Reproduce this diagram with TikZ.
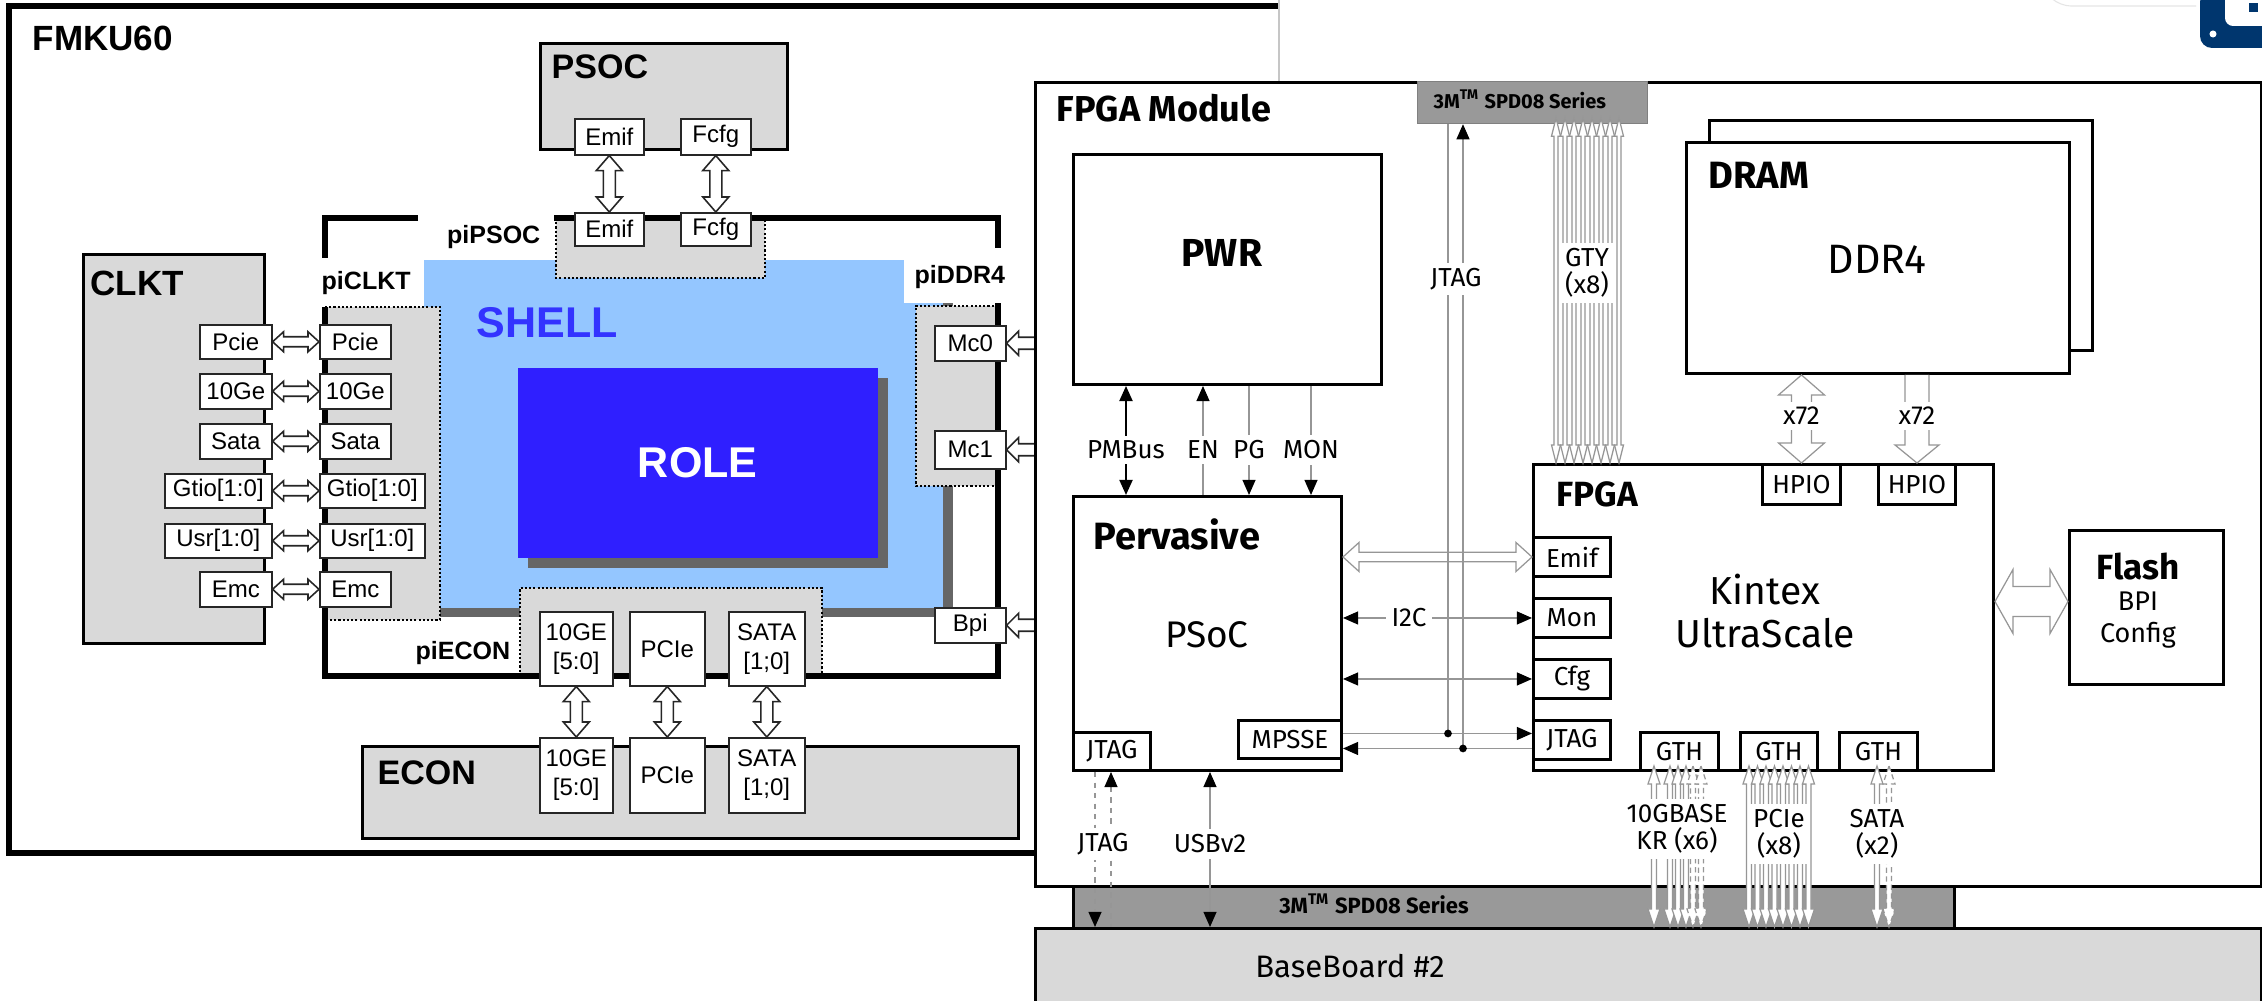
\documentclass[tikz,border=0pt]{standalone}
\usepackage{fontspec}
\setmainfont{Liberation Sans}
\newfontfamily\plex{Fira Sans}
\usetikzlibrary{arrows.meta,calc}
\definecolor{panelgray}{RGB}{217,217,217}
\definecolor{spdgray}{RGB}{153,153,153}
\definecolor{shadowgray}{RGB}{102,102,102}
\definecolor{shellblue}{RGB}{148,198,255}
\definecolor{roleblue}{RGB}{47,31,255}
\definecolor{shelltext}{RGB}{51,51,255}
\definecolor{logoblue}{RGB}{0,54,110}
\definecolor{connline}{RGB}{150,150,150}
\newcommand\fpx[1]{\fontsize{\fpeval{#1*0.28453}pt}{\fpeval{#1*0.34}pt}\selectfont}
\newcommand\fpxs[2]{\fontsize{\fpeval{#1*0.28453}pt}{\fpeval{#2*0.28453}pt}\selectfont}
\newcommand\bx[7]{\node[#2,anchor=north west,minimum width={(#5-#3)*0.01cm},minimum height={(#6-#4)*0.01cm}] (#1) at (#3,#4) {#7};}
\newcommand\vbarrow[6][]{\draw[#1] (#2) -- ++(#5,#6) -- ++({#4-#5},0) -- ($(#2|-#3)+(#4,-#6)$) -- ++({#5-#4},0) -- (#2|-#3) -- ++(-#5,-#6) -- ++({#5-#4},0) -- ($(#2)+(-#4,#6)$) -- ++({#4-#5},0) -- cycle;}
\newcommand\hbarrow[6][]{\draw[#1] (#2) -- ++(#6,-#5) -- ++(0,{#5-#4}) -- ($(#3|-#2)+(-#6,-#4)$) -- ++(0,{#4-#5}) -- (#3|-#2) -- ++(-#6,#5) -- ++(0,{#4-#5}) -- ($(#2)+(#6,#4)$) -- ++(0,{#5-#4}) -- cycle;}
\tikzset{
 thickline/.style={line width=1.7pt},
 gbox/.style={draw=black, line width=0.85pt, fill=panelgray, inner sep=0pt},
 wbox/.style={draw=black!85, line width=0.45pt, fill=white, inner sep=0pt, font=\fpx{24}, align=center},
 lbl/.style={font=\bfseries\fpx{35}, anchor=west, inner sep=0pt},
 pilbl/.style={font=\bfseries\fpx{25}, inner sep=0pt},
 dotline/.style={draw=black, line width=0.6pt, dash pattern=on 0.6pt off 0.6pt},
 oarrow/.style={draw=black!85, line width=0.45pt, fill=white},
 pbox/.style={draw=black, line width=0.85pt, fill=white, inner sep=0pt, font=\plex\fpx{26}},
 plbl/.style={font=\plex\bfseries\fpx{35}, inner sep=0pt},
 ptxt/.style={font=\plex\fpxs{26}{27}, inner sep=1.5pt, fill=white, align=center},
 conn/.style={draw=connline, line width=0.35pt},
 dconn/.style={conn, dash pattern=on 1.5pt off 1.5pt},
 garrow/.style={draw=connline, line width=0.35pt, fill=white},
 gdash/.style={garrow, dash pattern=on 1.5pt off 1pt},
 tri/.tip={Triangle[length=4.3pt,width=3.7pt,color=black]},
}
\begin{document}
\begin{tikzpicture}[x=0.01cm,y=-0.01cm]
\useasboundingbox (0,0) rectangle (2262,1001);
\fill[white] (0,0) rectangle (2262,1001);

% ================= LEFT PANEL (FMKU60) =================
\draw[thickline] (1034,853) -- (9,853) -- (9,6) -- (1279,6);
\draw[gray!45,line width=0.35pt] (1279,0) -- (1279,81);
\node[lbl] (fmku) at (32,38) {FMKU60};

\bx{psoc}{gbox}{539}{42}{786}{148}{}
\node[lbl,font=\bfseries\fpx{34}] (psoclbl) at (551,67) {PSOC};
\bx{clkt}{gbox}{82}{253}{263}{642}{}
\node[lbl] (clktlbl) at (90,283) {CLKT};
\bx{econ}{gbox}{361}{745}{1017}{837}{}
\node[lbl,font=\bfseries\fpx{34}] (econlbl) at (377,773) {ECON};

% shell area
\fill[shadowgray] (434,270) rectangle (953,617);
\fill[shellblue] (424,260) rectangle (943,608);
\fill[white] (904,255) rectangle (996,303);
\fill[shadowgray] (528,378) rectangle (888,568);
\bx{role}{fill=roleblue,inner sep=0pt,text=white,font=\bfseries\fpx{43}}{517}{367}{877}{557}{ROLE}
\node[font=\bfseries\fpx{43},text=shelltext,anchor=west,inner sep=0pt] (shell) at (476,323) {SHELL};

% dotted port regions
\fill[panelgray] (556,218) rectangle (765,278);
\draw[dotline] (556,218) -- (556,278) -- (765,278) -- (765,218);
\fill[panelgray] (325,307) rectangle (440,620);
\draw[dotline] (325,307) -- (440,307) -- (440,620) -- (325,620);
\fill[panelgray] (916,306) rectangle (998,486);
\draw[dotline] (998,306) -- (916,306) -- (916,486) -- (998,486);
\fill[panelgray] (520,588) rectangle (822,676);
\draw[dotline] (520,676) -- (520,588) -- (822,588) -- (822,676);

% shell frame
\draw[thickline] (418,218) -- (325,218) -- (325,258);
\draw[thickline] (325,307) -- (325,676) -- (998,676) -- (998,303);
\draw[thickline] (998,248) -- (998,218) -- (554,218);

\node[pilbl,anchor=east] (pipsoc) at (541,237) {piPSOC};
\node[pilbl,anchor=west] (piclkt) at (321,283) {piCLKT};
\node[pilbl,anchor=west] (piddr) at (914,277) {piDDR4};
\node[pilbl,anchor=west] (piecon) at (415,653) {piECON};

% PSOC ports
\bx{pemif}{wbox}{574}{118}{643}{154}{Emif}
\bx{pfcfg}{wbox}{680}{118}{750}{154}{Fcfg}
\bx{semif}{wbox}{574}{212}{643}{245}{Emif}
\bx{sfcfg}{wbox}{680}{212}{750}{245}{Fcfg}
\vbarrow[oarrow]{pemif.south}{semif.north}{6}{13}{15}
\vbarrow[oarrow]{pfcfg.south}{sfcfg.north}{6}{13}{15}

% CLKT ports
\bx{cpcie}{wbox}{199}{324}{271}{358}{Pcie}
\bx{c10ge}{wbox}{199}{373}{271}{408}{10Ge}
\bx{csata}{wbox}{199}{423}{271}{458}{Sata}
\bx{cgtio}{wbox}{164}{473}{271}{507}{Gtio[1:0]}
\bx{cusr}{wbox}{164}{523}{271}{557}{Usr[1:0]}
\bx{cemc}{wbox}{199}{571}{271}{606}{Emc}
\bx{spcie}{wbox}{319}{324}{390}{358}{Pcie}
\bx{s10ge}{wbox}{319}{373}{390}{408}{10Ge}
\bx{ssata}{wbox}{319}{423}{390}{458}{Sata}
\bx{sgtio}{wbox}{319}{473}{424}{507}{Gtio[1:0]}
\bx{susr}{wbox}{319}{523}{424}{557}{Usr[1:0]}
\bx{semc}{wbox}{319}{571}{390}{606}{Emc}
\hbarrow[oarrow]{cpcie.east}{spcie.west}{5}{10}{11}
\hbarrow[oarrow]{c10ge.east}{s10ge.west}{5}{10}{11}
\hbarrow[oarrow]{csata.east}{ssata.west}{5}{10}{11}
\hbarrow[oarrow]{cgtio.east}{sgtio.west}{5}{10}{11}
\hbarrow[oarrow]{cusr.east}{susr.west}{5}{10}{11}
\hbarrow[oarrow]{cemc.east}{semc.west}{5}{10}{11}

% DDR4 / Bpi ports
\bx{mc0}{wbox}{934}{325}{1005}{360}{Mc0}
\bx{mc1}{wbox}{934}{430}{1005}{468}{Mc1}
\bx{bpi}{wbox}{934}{607}{1005}{642}{Bpi}
\draw[oarrow] (mc0.east) -- ++(12,-12) -- ++(0,6) -- ++(40,0) -- ++(0,12) -- ++(-40,0) -- ++(0,6) -- cycle;
\draw[oarrow] (mc1.east) -- ++(12,-12) -- ++(0,6) -- ++(40,0) -- ++(0,12) -- ++(-40,0) -- ++(0,6) -- cycle;
\draw[oarrow] (bpi.east) -- ++(12,-12) -- ++(0,6) -- ++(40,0) -- ++(0,12) -- ++(-40,0) -- ++(0,6) -- cycle;

% ECON ports
\bx{e10}{wbox}{539}{611}{612}{685}{10GE\\{[5:0]}}
\bx{epci}{wbox}{629}{611}{704}{685}{PCIe}
\bx{esata}{wbox}{728}{611}{804}{685}{SATA\\{[1;0]}}
\bx{l10}{wbox}{539}{737}{612}{812}{10GE\\{[5:0]}}
\bx{lpci}{wbox}{629}{737}{704}{812}{PCIe}
\bx{lsata}{wbox}{728}{737}{804}{812}{SATA\\{[1;0]}}
\vbarrow[oarrow]{e10.south}{l10.north}{6}{13}{15}
\vbarrow[oarrow]{epci.south}{lpci.north}{6}{13}{15}
\vbarrow[oarrow]{esata.south}{lsata.north}{6}{13}{15}

% ================= RIGHT PANEL (FPGA Module) =================
\bx{fmod}{pbox}{1034}{81}{2260}{885}{}
\bx{spdb}{draw=black,line width=0.85pt,fill=spdgray,inner sep=0pt}{1072}{885}{1953}{927}{}
\bx{base}{pbox,fill=panelgray}{1034}{927}{2260}{1012}{}
\node[font=\plex\bfseries\fpx{22},inner sep=0pt] (spdblbl) at (1374,904) {3M\textsuperscript{TM} SPD08 Series};
\node[font=\plex\fpx{31},inner sep=0pt] (baselbl) at (1350,966) {BaseBoard \#2};
\node[plbl,anchor=west,font=\plex\bfseries\fpx{36}] (fmodlbl) at (1056,108) {FPGA Module};
\bx{spdt}{draw=gray,line width=0.35pt,fill=spdgray,inner sep=0pt}{1417}{81}{1647}{123}{}
\node[font=\plex\bfseries\fpx{20},anchor=west,inner sep=0pt] (spdtlbl) at (1433,99) {3M\textsuperscript{TM} SPD08 Series};

\bx{pwr}{pbox}{1072}{153}{1380}{383}{}
\node[plbl,font=\plex\bfseries\fpx{39}] (pwrlbl) at (1222,253) {PWR};
\bx{perv}{pbox}{1072}{495}{1340}{769}{}
\node[plbl,anchor=west,font=\plex\bfseries\fpx{38}] (pervlbl) at (1093,534) {Pervasive};
\node[font=\plex\fpx{37},inner sep=0pt] (psoclbl2) at (1207,635) {PSoC};
\bx{jtagp}{pbox}{1072}{731}{1149}{769}{JTAG}
\bx{mpsse}{pbox}{1237}{719}{1340}{757}{MPSSE}

\bx{dramb}{pbox}{1708}{119}{2091}{349}{}
\bx{dram}{pbox}{1685}{141}{2068}{372}{}
\node[plbl,anchor=west,font=\plex\bfseries\fpx{38}] (dramlbl) at (1708,175) {DRAM};
\node[font=\plex\fpx{41},inner sep=0pt] (ddr4) at (1877,259) {DDR4};

\bx{fpga}{pbox}{1532}{463}{1992}{769}{}
\node[plbl,anchor=west] (fpgalbl) at (1556,494) {FPGA};
\node[font=\plex\fpxs{39}{43},align=center,inner sep=0pt] (kintex) at (1765,611) {Kintex\\UltraScale};
\bx{hpio1}{pbox}{1761}{463}{1839}{503}{HPIO}
\bx{hpio2}{pbox}{1877}{463}{1954}{503}{HPIO}
\bx{emiff}{pbox}{1532}{536}{1609}{575}{Emif}
\bx{monf}{pbox}{1532}{597}{1609}{636}{Mon}
\bx{cfgf}{pbox}{1532}{658}{1609}{697}{Cfg}
\bx{jtagf}{pbox}{1532}{719}{1609}{758}{JTAG}
\bx{gth1}{pbox}{1639}{731}{1717}{769}{GTH}
\bx{gth2}{pbox}{1739}{731}{1816}{769}{GTH}
\bx{gth3}{pbox}{1838}{731}{1916}{769}{GTH}
\bx{flash}{pbox}{2068}{529}{2222}{683}{}
\node[plbl] (flashlbl) at (2138,567) {Flash};
\node[font=\plex\fpxs{27}{32},align=center,inner sep=0pt] (bpicfg) at (2138,620) {BPI\\Config};

% PWR <-> Pervasive
\coordinate (pmA) at ($(pwr.south west)+(54,0)$);
\draw[line width=0.6pt,tri-tri] (pmA) -- (pmA |- perv.north);
\node[ptxt] (pmbus) at ($(pmA)+(0,64)$) {PMBus};
\coordinate (enA) at ($(pwr.south west)+(131,0)$);
\draw[conn,-tri] (enA |- perv.north) -- (enA);
\node[ptxt] (enlbl) at ($(enA)+(0,64)$) {EN};
\coordinate (pgA) at ($(pwr.south west)+(177,0)$);
\draw[conn,-tri] (pgA) -- (pgA |- perv.north);
\node[ptxt] (pglbl) at ($(pgA)+(0,64)$) {PG};
\coordinate (monA) at ($(pwr.south west)+(239,0)$);
\draw[conn,-tri] (monA) -- (monA |- perv.north);
\node[ptxt] (monlbl) at ($(monA)+(0,64)$) {MON};

% Pervasive <-> FPGA
\coordinate (ea) at (perv.east |- emiff.west);
\hbarrow[garrow]{ea}{emiff.west}{4.7}{14.5}{16}
\draw[conn,tri-tri] (perv.east |- monf.west) -- (monf.west);
\node[ptxt] (i2c) at ($(perv.east |- monf.west)+(66,0)$) {I2C};
\draw[conn,tri-tri] (perv.east |- cfgf.west) -- (cfgf.west);

% JTAG to top connector
\coordinate (jA) at ($(spdt.south west)+(31,0)$);
\coordinate (jB) at ($(spdt.south west)+(46,0)$);
\coordinate (h1) at ($(mpsse.east)+(0,-6)$);
\coordinate (h2) at ($(mpsse.east)+(0,9)$);
\draw[conn] (jA) -- (jA |- h1);
\draw[conn,tri-] (jB) -- (jB |- h2);
\draw[conn,-tri] (h1) -- (h1 -| jtagf.west);
\draw[conn,-tri] (h2 -| jtagf.west) -- (h2);
\fill (jA |- h1) circle[radius=1.1pt];
\fill (jB |- h2) circle[radius=1.1pt];
\node[ptxt] (jtaglbl) at ($(jA)+(8,155)$) {JTAG};

% GTY lanes
\foreach \i in {0,...,7}{
  \coordinate (gt\i) at ($(spdt.south west)+({139+9*\i},-6)$);
  \coordinate (gb\i) at (gt\i |- fpga.north);
  \vbarrow[garrow]{gt\i}{gb\i}{2}{4.5}{18}
}
\node[ptxt] (gtylbl) at (1587,273) {GTY\\(x8)};

% DRAM <-> HPIO
\coordinate (xa) at (hpio1.north |- dram.south);
\vbarrow[garrow]{xa}{hpio1.north}{10}{23}{20}
\node[ptxt] (x72a) at ($(xa)+(0,41)$) {x72};
\coordinate (xc) at (hpio2.north |- dram.south);
\draw[garrow] ($(xc)+(-12,0)$) -- ($(hpio2.north)+(-12,-18)$) -- ($(hpio2.north)+(-22,-18)$) -- (hpio2.north) -- ($(hpio2.north)+(22,-18)$) -- ($(hpio2.north)+(12,-18)$) -- ($(xc)+(12,0)$);
\node[ptxt] (x72b) at ($(xc)+(0,41)$) {x72};

% FPGA <-> Flash
\coordinate (fa) at ($(fpga.east |- flash.west)+(0,-6)$);
\coordinate (fb) at (flash.west |- fa);
\hbarrow[garrow]{fa}{fb}{15}{32}{18}

% Pervasive <-> BaseBoard
\coordinate (bj1) at ($(jtagp.south west)+(23,0)$);
\coordinate (bj2) at ($(jtagp.south west)+(39,0)$);
\draw[dconn,-tri] (bj1) -- (bj1 |- base.north);
\draw[dconn,tri-] (bj2) -- (bj2 |- base.north);
\node[ptxt] (jtagb) at ($(bj1)+(8,72)$) {JTAG};
\coordinate (us) at ($(perv.south west)+(138,0)$);
\draw[conn,tri-tri] (us) -- (us |- base.north);
\node[ptxt] (usb) at ($(us)+(0,72)$) {USBv2};

% GTH lanes to BaseBoard
\foreach \o in {15,31,39,47}{
  \coordinate (ta) at ($(gth1.south west)+(\o,-6)$);
  \coordinate (tb) at (ta |- base.north);
  \vbarrow[garrow]{ta}{tb}{2.5}{6}{18}
}
\foreach \o in {54,62}{
  \coordinate (ta) at ($(gth1.south west)+(\o,-6)$);
  \coordinate (tb) at (ta |- base.north);
  \vbarrow[gdash]{ta}{tb}{2.5}{6}{18}
}
\foreach \i in {0,...,7}{
  \coordinate (ta) at ($(gth2.south west)+({10+8.5*\i},-6)$);
  \coordinate (tb) at (ta |- base.north);
  \vbarrow[garrow]{ta}{tb}{2.5}{6}{18}
}
\coordinate (ta) at ($(gth3.south west)+(39,-6)$);
\coordinate (tb) at (ta |- base.north);
\vbarrow[garrow]{ta}{tb}{2.5}{6}{18}
\coordinate (ta) at ($(gth3.south west)+(51,-6)$);
\coordinate (tb) at (ta |- base.north);
\vbarrow[gdash]{ta}{tb}{2.5}{6}{18}
\node[ptxt] (kr) at ($(gth1.south west)+(38,57)$) {10GBASE\\KR (x6)};
\node[ptxt] (pcie) at ($(gth2.south)+(0,62)$) {PCIe\\(x8)};
\node[ptxt] (sata) at ($(gth3.south west)+(39,62)$) {SATA\\(x2)};

% top-right logo fragment
\draw[gray!20,line width=0.3pt,rounded corners=3pt] (2048,-5) -- (2060,6) -- (2196,6);
\fill[logoblue,rounded corners=3.4pt] (2200,-10) -- (2200,48) -- (2275,48) -- (2275,-10) -- cycle;
\fill[white,rounded corners=2.3pt] (2225,-10) -- (2225,26) -- (2275,26) -- (2275,-10) -- cycle;
\fill[logoblue] (2249,3) rectangle (2258,12);
\fill[white] (2213,34) circle[radius=1pt];
\end{tikzpicture}
\end{document}
